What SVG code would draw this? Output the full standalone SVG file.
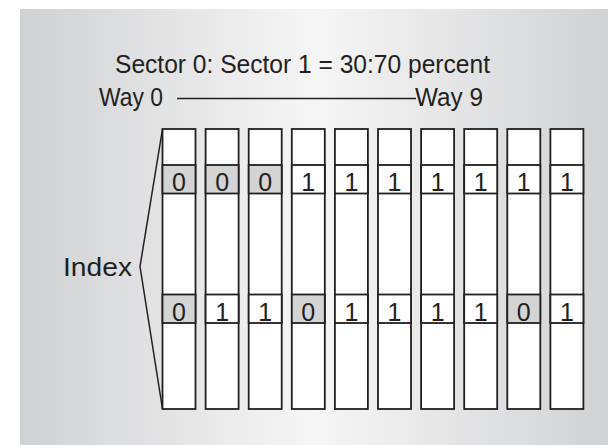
<svg xmlns="http://www.w3.org/2000/svg" width="608" height="445" viewBox="0 0 608 445">
  <defs>
    <linearGradient id="bg" x1="20" y1="0" x2="608" y2="0" gradientUnits="userSpaceOnUse">
      <stop offset="0" stop-color="#d0d1d3"/>
      <stop offset="0.5" stop-color="#f6f6f6"/>
      <stop offset="1" stop-color="#d1d2d4"/>
    </linearGradient>
    <style>
      .txt { font-family: "Liberation Sans", Arial, sans-serif; font-size: 25px; fill: #231f20; }
      .dig { font-family: "Liberation Sans", Arial, sans-serif; font-size: 25px; fill: #231f20; text-anchor: middle; }
      .col { fill: #ffffff; stroke: #231f20; stroke-width: 1.8; }
      .c0 { fill: #d4d4d4; stroke: #231f20; stroke-width: 1.8; }
      .c1 { fill: #ffffff; stroke: #231f20; stroke-width: 1.8; }
      .ln { fill: none; stroke: #231f20; stroke-width: 1.5; }
    </style>
  </defs>
  <rect x="20" y="9" width="588" height="436" fill="url(#bg)"/>

  <g id="title">
    <text class="txt" x="115" y="73" textLength="375" lengthAdjust="spacingAndGlyphs">Sector 0: Sector 1 = 30:70 percent</text>
  </g>
  <g id="way0"><text class="txt" x="99" y="106" textLength="64" lengthAdjust="spacingAndGlyphs">Way 0</text></g>
  <g id="way9"><text class="txt" x="415" y="106" textLength="68" lengthAdjust="spacingAndGlyphs">Way 9</text></g>
  <g id="index"><text class="txt" x="63" y="276" textLength="69" lengthAdjust="spacingAndGlyphs">Index</text></g>

  <g id="connectors">
    <line class="ln" x1="177" y1="98.5" x2="416" y2="98.5"/>
    <polyline class="ln" points="162.5,129 140,266.5 162.5,409"/>
  </g>

  <g id="way-0">
    <rect class="col" x="162.5" y="129" width="33" height="280"/>
    <rect class="c0" x="162.5" y="165" width="33" height="28.5"/><text class="dig" x="179" y="191">0</text>
    <rect class="c0" x="162.5" y="294.5" width="33" height="28.5"/><text class="dig" x="179" y="320.5">0</text>
  </g>
  <g id="way-1">
    <rect class="col" x="205.6" y="129" width="33" height="280"/>
    <rect class="c0" x="205.6" y="165" width="33" height="28.5"/><text class="dig" x="222.1" y="191">0</text>
    <rect class="c1" x="205.6" y="294.5" width="33" height="28.5"/><text class="dig" x="222.1" y="320.5">1</text>
  </g>
  <g id="way-2">
    <rect class="col" x="248.7" y="129" width="33" height="280"/>
    <rect class="c0" x="248.7" y="165" width="33" height="28.5"/><text class="dig" x="265.2" y="191">0</text>
    <rect class="c1" x="248.7" y="294.5" width="33" height="28.5"/><text class="dig" x="265.2" y="320.5">1</text>
  </g>
  <g id="way-3">
    <rect class="col" x="291.8" y="129" width="33" height="280"/>
    <rect class="c1" x="291.8" y="165" width="33" height="28.5"/><text class="dig" x="308.3" y="191">1</text>
    <rect class="c0" x="291.8" y="294.5" width="33" height="28.5"/><text class="dig" x="308.3" y="320.5">0</text>
  </g>
  <g id="way-4">
    <rect class="col" x="334.9" y="129" width="33" height="280"/>
    <rect class="c1" x="334.9" y="165" width="33" height="28.5"/><text class="dig" x="351.4" y="191">1</text>
    <rect class="c1" x="334.9" y="294.5" width="33" height="28.5"/><text class="dig" x="351.4" y="320.5">1</text>
  </g>
  <g id="way-5">
    <rect class="col" x="378" y="129" width="33" height="280"/>
    <rect class="c1" x="378" y="165" width="33" height="28.5"/><text class="dig" x="394.5" y="191">1</text>
    <rect class="c1" x="378" y="294.5" width="33" height="28.5"/><text class="dig" x="394.5" y="320.5">1</text>
  </g>
  <g id="way-6">
    <rect class="col" x="421.1" y="129" width="33" height="280"/>
    <rect class="c1" x="421.1" y="165" width="33" height="28.5"/><text class="dig" x="437.6" y="191">1</text>
    <rect class="c1" x="421.1" y="294.5" width="33" height="28.5"/><text class="dig" x="437.6" y="320.5">1</text>
  </g>
  <g id="way-7">
    <rect class="col" x="464.2" y="129" width="33" height="280"/>
    <rect class="c1" x="464.2" y="165" width="33" height="28.5"/><text class="dig" x="480.7" y="191">1</text>
    <rect class="c1" x="464.2" y="294.5" width="33" height="28.5"/><text class="dig" x="480.7" y="320.5">1</text>
  </g>
  <g id="way-8">
    <rect class="col" x="507.3" y="129" width="33" height="280"/>
    <rect class="c1" x="507.3" y="165" width="33" height="28.5"/><text class="dig" x="523.8" y="191">1</text>
    <rect class="c0" x="507.3" y="294.5" width="33" height="28.5"/><text class="dig" x="523.8" y="320.5">0</text>
  </g>
  <g id="way-9">
    <rect class="col" x="550.4" y="129" width="33" height="280"/>
    <rect class="c1" x="550.4" y="165" width="33" height="28.5"/><text class="dig" x="566.9" y="191">1</text>
    <rect class="c1" x="550.4" y="294.5" width="33" height="28.5"/><text class="dig" x="566.9" y="320.5">1</text>
  </g>
</svg>
